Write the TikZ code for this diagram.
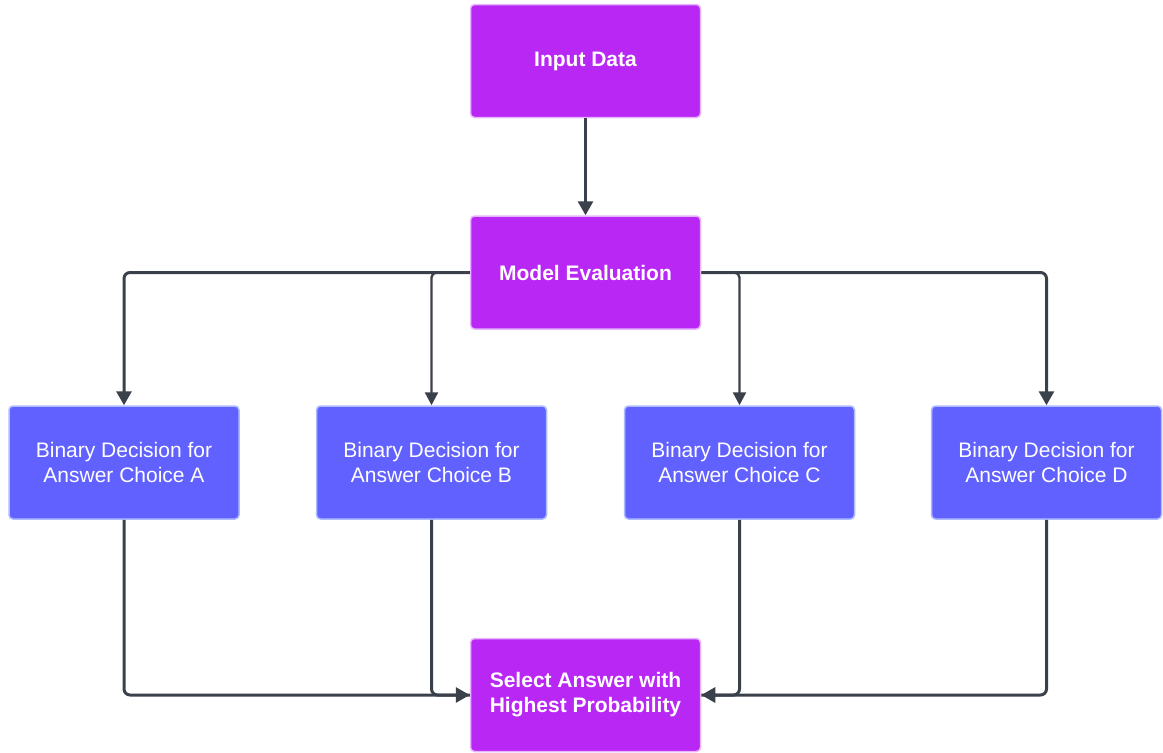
\documentclass[tikz,border=0pt]{standalone}
\usepackage{fontspec}
\setmainfont{Liberation Sans}
\usetikzlibrary{arrows.meta}
\definecolor{procpurple}{HTML}{B927F5}
\definecolor{procpurpleedge}{HTML}{E6B6FB}
\definecolor{choiceblue}{HTML}{6161FF}
\definecolor{choiceblueedge}{HTML}{AEBBFF}
\definecolor{wire}{HTML}{3A414A}
\tikzset{
  boxbase/.style={rectangle, rounded corners=4pt, minimum width=230pt, minimum height=113pt,
    text=white, align=center, line width=1.5pt, font=\fontsize{21}{25}\selectfont, inner sep=0pt},
  procbox/.style={boxbase, fill=procpurple, draw=procpurpleedge, font=\fontsize{21}{25}\selectfont\bfseries},
  choicebox/.style={boxbase, fill=choiceblue, draw=choiceblueedge},
  wirethick/.style={draw=wire, line width=3pt, rounded corners=6pt,
    -{Triangle[length=14pt,width=15pt]}},
  wirethin/.style={draw=wire, line width=2.4pt, rounded corners=5pt,
    -{Triangle[length=13pt,width=13pt]}},
  wireplain/.style={draw=wire, line width=3pt, rounded corners=6pt},
}
\begin{document}
\begin{tikzpicture}[x=1pt,y=-1pt]
\useasboundingbox (0,0) rectangle (1163,753);

\node[procbox] (input) at (585.5,61) {Input Data};
\node[procbox] (model) at (585.5,272.5) {Model Evaluation};
\node[choicebox] (ca) at (124,462.5) {Binary Decision for\\Answer Choice A};
\node[choicebox] (cb) at (431.5,462.5) {Binary Decision for\\Answer Choice B};
\node[choicebox] (cc) at (739.5,462.5) {Binary Decision for\\Answer Choice C};
\node[choicebox] (cd) at (1046.5,462.5) {Binary Decision for\\Answer Choice D};
\node[procbox] (select) at (585.5,695) {Select Answer with\\Highest Probability};

% input to evaluation
\draw[wirethick] (input.south) -- (model.north);

% evaluation fans out to the four choices
\draw[wirethick] (model.west) -| (ca.north);
\draw[wirethin] (model.west) -| (cb.north);
\draw[wirethin] (model.east) -| (cc.north);
\draw[wirethick] (model.east) -| (cd.north);

% choices feed the final selection
\draw[wirethick] (ca.south) |- (select.west);
\draw[wireplain] (cb.south) |- (select.west);
\draw[wirethick] (cd.south) |- (select.east);
\draw[wireplain] (cc.south) |- (select.east);
\end{tikzpicture}
\end{document}
